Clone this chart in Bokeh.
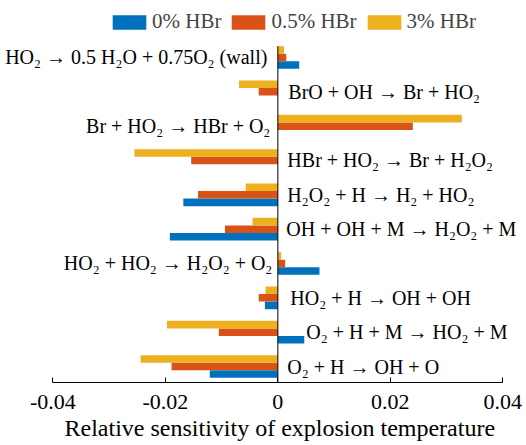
import numpy as np
from bokeh.plotting import figure
from bokeh.models import (ColumnDataSource, Label, Legend, LegendItem,
                          FixedTicker, Range1d, Title)
from bokeh.embed import file_html
from bokeh.resources import INLINE

# Reactions, listed top to bottom
reactions = [
    "HO₂ → 0.5 H₂O + 0.75O₂ (wall)",
    "BrO + OH → Br + HO₂",
    "Br + HO₂ → HBr + O₂",
    "HBr + HO₂ → Br + H₂O₂",
    "H₂O₂ + H → H₂ + HO₂",
    "OH + OH + M → H₂O₂ + M",
    "HO₂ + HO₂ → H₂O₂ + O₂",
    "HO₂ + H → OH + OH",
    "O₂ + H + M → HO₂ + M",
    "O₂ + H → OH + O",
]

# Relative sensitivity of the explosion temperature for each HBr level
sens_0 = [0.0038, 0.0, 0.0, 0.0, -0.0168, -0.0192, 0.0074, -0.0023, 0.0047, -0.0121]
sens_05 = [0.0015, -0.0034, 0.0240, -0.0154, -0.0142, -0.0094, 0.0013, -0.0034, -0.0105, -0.0189]
sens_3 = [0.0011, -0.0069, 0.0327, -0.0255, -0.0057, -0.0045, 0.0006, -0.0022, -0.0197, -0.0244]

series_names = ["0% HBr", "0.5% HBr", "3% HBr"]
x_ticks = [-0.04, -0.02, 0, 0.02, 0.04]
x_tick_labels = ["-0.04", "-0.02", "0", "0.02", "0.04"]
x_title = "Relative sensitivity of explosion temperature"

# Placement of reaction labels: which side of zero, and pixel gap from the axis
label_side = ["left", "right", "left", "right", "right", "right", "left", "right", "right", "right"]
label_gap = [10.5, 10.5, 7.5, 9.5, 9.5, 8.5, 5.5, 12.5, 28.5, 9.5]

colors = ["#0072BD", "#D95319", "#EDB120"]
FONT = "Liberation Serif"

n = len(reactions)
rows = np.arange(n, 0, -1).astype(float)   # first reaction on top
bar_h = 0.22
offsets = [-bar_h, 0.0, bar_h]             # blue bottom, yellow top

# The frame fills the canvas width; the x axis is bounded to the tick span
# and the space above the bars holds the legend.
p = figure(width=526, height=445, output_backend="svg", toolbar_location=None,
           x_range=Range1d(-0.0493, 0.0442), y_range=Range1d(0.534, 11.66),
           min_border_left=0, min_border_right=0,
           min_border_top=0, min_border_bottom=63)
p.outline_line_color = None
p.xgrid.visible = False
p.ygrid.visible = False
p.yaxis.visible = False
p.background_fill_color = "white"
p.border_fill_color = "white"

renderers = []
for vals, off, col in zip([sens_0, sens_05, sens_3], offsets, colors):
    src = ColumnDataSource(dict(y=rows + off, right=vals))
    r = p.hbar(y="y", right="right", left=0, height=bar_h, source=src,
               fill_color=col, line_color=None)
    renderers.append(r)

# vertical axis line through zero, from the x axis up to the top bar
p.segment(x0=[0], y0=[p.y_range.start], x1=[0], y1=[rows.max() + 1.5 * bar_h],
          line_color="black", line_width=1)

# x axis
ax = p.xaxis[0]
ax.bounds = (x_ticks[0], x_ticks[-1])
ax.ticker = FixedTicker(ticks=x_ticks)
ax.major_label_overrides = {t: s for t, s in zip(x_ticks, x_tick_labels)}
ax.minor_tick_line_color = None
ax.major_tick_in = 5
ax.major_tick_out = 0
ax.axis_line_color = "black"
ax.major_tick_line_color = "black"
ax.major_label_text_font = FONT
ax.major_label_text_font_size = "22px"
ax.major_label_text_color = "black"
ax.major_label_standoff = 12

# axis title, centred under the bounded axis rather than the full frame
p.add_layout(Title(text=x_title, align="left", offset=64, standoff=3,
                   text_font=FONT, text_font_size="24px",
                   text_font_style="normal", text_color="black"), "below")

# reaction labels
for name, yv, side, gap in zip(reactions, rows, label_side, label_gap):
    left = side == "left"
    p.add_layout(Label(x=0, y=yv, text=name,
                       x_offset=-gap if left else gap,
                       text_align="right" if left else "left",
                       text_baseline="middle",
                       text_font=FONT, text_font_size="20px",
                       text_color="black"))

legend = Legend(items=[LegendItem(label=nm, renderers=[r])
                       for nm, r in zip(series_names, renderers)],
                orientation="horizontal", location=(108, 348),
                glyph_width=42, glyph_height=18, label_standoff=2,
                spacing=6, padding=0, margin=0,
                border_line_color=None, background_fill_alpha=0,
                label_text_font=FONT, label_text_font_size="21px")
p.add_layout(legend)

open("out.html", "w").write(file_html(p, INLINE))
